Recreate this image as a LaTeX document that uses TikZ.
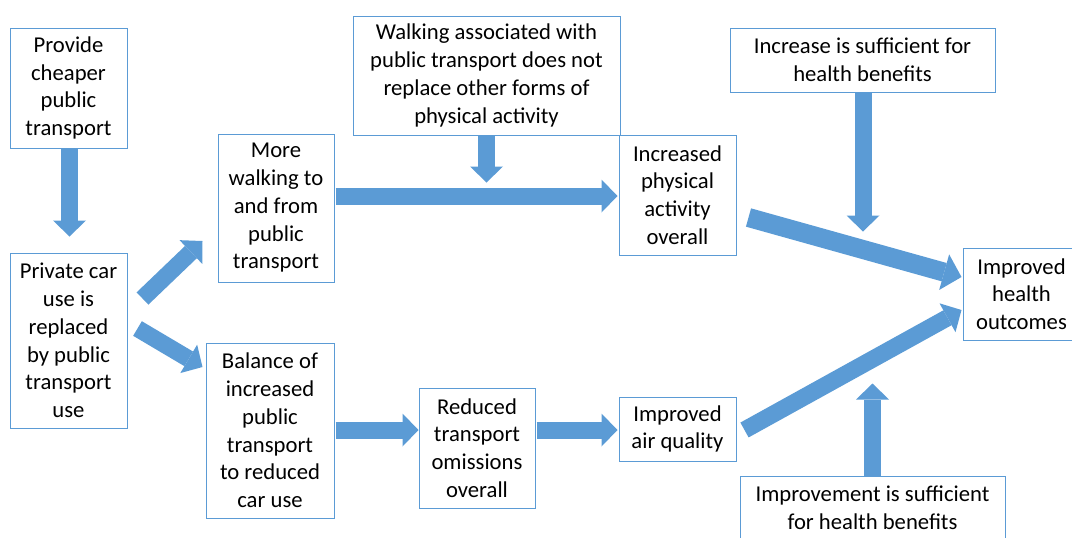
\documentclass[tikz,border=0pt]{standalone}
\usepackage{fontspec}
\setmainfont{Carlito}
\usepackage{tikz}
\usetikzlibrary{arrows.meta, calc}
\definecolor{officeblue}{HTML}{5B9BD5}
\tikzstyle{box} = [draw=officeblue, line width=0.75pt, align=center, inner sep=0pt, font=\fontsize{17}{20.8}\selectfont]
\tikzstyle{bigarrow} = [officeblue, line width=12.75pt, -{Triangle[width=24.75pt, length=12pt, line width=0pt]}]
\tikzstyle{widearrow} = [officeblue, line width=14.25pt, -{Triangle[width=27.75pt, length=13.5pt, line width=0pt]}]

\begin{document}
\begin{tikzpicture}[x=0.75pt, y=-0.75pt]
\useasboundingbox (0,0) rectangle (1072,537);

\node[box, minimum width=87.75pt, minimum height=90pt] (cheaper) at (68.5,88) {Provide\\cheaper\\public\\transport};
\node[box, minimum width=87.75pt, minimum height=131.25pt] (replaced) at (68.5,340.5) {Private car\\use is\\replaced\\by public\\transport\\use};
\node[box, minimum width=87pt, minimum height=111pt] (walking) at (276,208) {More\\walking to\\and from\\public\\transport};
\node[box, minimum width=200.25pt, minimum height=89.25pt] (noreplace) at (486.5,75.5) {Walking associated with\\public transport does not\\replace other forms of\\physical activity};
\node[box, minimum width=87.75pt, minimum height=90pt] (activity) at (677.5,195) {Increased\\physical\\activity\\overall};
\node[box, minimum width=198.75pt, minimum height=48pt] (increase) at (862.5,60) {Increase is sufficient for\\health benefits};
\node[box, minimum width=87.75pt, minimum height=69pt] (health) at (1021.5,294) {Improved\\health\\outcomes};
\node[box, minimum width=96pt, minimum height=131.25pt] (balance) at (270,430.5) {Balance of\\increased\\public\\transport\\to reduced\\car use};
\node[box, minimum width=87pt, minimum height=90pt] (emissions) at (477,448) {Reduced\\transport\\omissions\\overall};
\node[box, minimum width=87.75pt, minimum height=48pt] (air) at (677.5,429) {Improved\\air quality};
\node[box, minimum width=198.75pt, minimum height=48pt] (improvement) at (872.5,508) {Improvement is sufficient\\for health benefits};

\draw[bigarrow] ($(cheaper.south)+(1,0)$) -- ($(replaced.north)+(1,-16)$);
\draw[bigarrow] ($(replaced.east)+(15,-42)$) -- ($(walking.west)+(-15,33)$);
\draw[bigarrow] ($(replaced.east)+(10,-12)$) -- ($(balance.west)+(-3,-63.5)$);
\draw[bigarrow] ($(walking.east)+(1,-12)$) -- ($(activity.west)+(-1,1)$);
\draw[bigarrow] (noreplace.south) -- ($(noreplace.south)+(0,47)$);
\draw[bigarrow] ($(increase.south)+(0.5,0)$) -- ($(increase.south)+(0.5,139)$);
\draw[widearrow] ($(activity.east)+(12,22.5)$) -- ($(health.west)+(-1,-17)$);
\draw[bigarrow] ($(air.east)+(8,1)$) -- ($(health.west)+(-1,16)$);
\draw[bigarrow] (improvement.north) -- ($(improvement.north)+(0,-92)$);
\draw[bigarrow] ($(balance.east)+(1,-0.5)$) -- ($(emissions.west)+(0,-18)$);
\draw[bigarrow] ($(emissions.east)+(1,-18)$) -- ($(air.west)+(-1,1)$);

\end{tikzpicture}
\end{document}
